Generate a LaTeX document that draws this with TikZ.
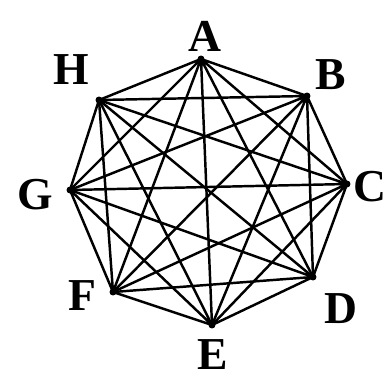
\documentclass[tikz,border=0pt]{standalone}
\usepackage{fontspec}
\setmainfont{Liberation Serif}
\usetikzlibrary{positioning}

\begin{document}
\begin{tikzpicture}[
  x=0.02cm, y=-0.02cm,
  vertex/.style={circle, fill, inner sep=1.4pt},
  lbl/.style={font=\fontsize{26}{28}\selectfont\bfseries, inner sep=0pt},
  edge/.style={line width=1.4pt, line join=round},
]
  \useasboundingbox (0,0) rectangle (388,378);

  % Vertices of the octagon
  \node[vertex] (A) at (201,59) {};
  \node[vertex] (B) at (307,96) {};
  \node[vertex] (C) at (347,184) {};
  \node[vertex] (D) at (313,277) {};
  \node[vertex] (E) at (212,325) {};
  \node[vertex] (F) at (113,292) {};
  \node[vertex] (G) at (70,190) {};
  \node[vertex] (H) at (99,100) {};

  % Labels
  \node[lbl] (la) at (205,36) {A};
  \node[lbl] (lb) at (331,75) {B};
  \node[lbl] (lc) at (370,187) {C};
  \node[lbl] (ld) at (341,309) {D};
  \node[lbl] (le) at (213,355) {E};
  \node[lbl] (lf) at (82,296) {F};
  \node[lbl] (lg) at (35,195) {G};
  \node[lbl] (lh) at (71,70) {H};

  % Edges: every pair of vertices
  \draw[edge] (A.center) -- (B.center) (A.center) -- (C.center) (A.center) -- (D.center)
    (A.center) -- (E.center) (A.center) -- (F.center) (A.center) -- (G.center)
    (A.center) -- (H.center);
  \draw[edge] (B.center) -- (C.center) (B.center) -- (D.center) (B.center) -- (E.center)
    (B.center) -- (F.center) (B.center) -- (G.center) (B.center) -- (H.center);
  \draw[edge] (C.center) -- (D.center) (C.center) -- (E.center) (C.center) -- (F.center)
    (C.center) -- (G.center) (C.center) -- (H.center);
  \draw[edge] (D.center) -- (E.center) (D.center) -- (F.center) (D.center) -- (G.center)
    (D.center) -- (H.center);
  \draw[edge] (E.center) -- (F.center) (E.center) -- (G.center) (E.center) -- (H.center);
  \draw[edge] (F.center) -- (G.center) (F.center) -- (H.center);
  \draw[edge] (G.center) -- (H.center);
\end{tikzpicture}
\end{document}
